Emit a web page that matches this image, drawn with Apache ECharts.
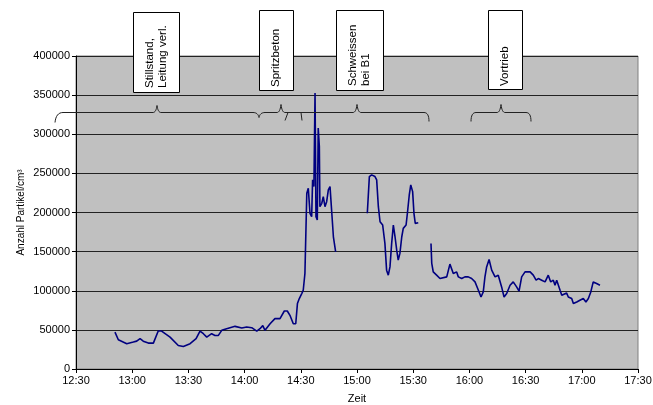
<!DOCTYPE html>
<html>
<head>
<meta charset="utf-8">
<script src="https://cdn.jsdelivr.net/npm/echarts@6/dist/echarts.min.js"></script>
<style>
html,body{margin:0;padding:0;background:#fff;}
#chart{width:653px;height:405px;}
</style>
</head>
<body>
<div id="chart"></div>
<script>
// Time values are minutes since midnight (e.g. 750 = 12:30)
const xTicks = ['12:30','13:00','13:30','14:00','14:30','15:00','15:30','16:00','16:30','17:00','17:30'];
const yTicks = [0,50000,100000,150000,200000,250000,300000,350000,400000];

const seg1Time = [770.8,772.6,777.1,780.6,782.4,784.2,785.9,788.6,791.3,793.9,795.7,800.2,804.6,807.3,810.9,814.1,816.2,818.0,819.8,822.4,824.2,826.0,827.8,830.4,834.9,838.5,841.1,843.8,846.5,848.2,849.7,850.9,853.6,856.2,858.9,861.2,862.8,864.2,866.0,867.3,868.2,869.2,870.5,871.3,872.2,873.2,874.0,874.9,875.8,876.3,877.0,877.6,878.1,878.8,879.3,879.9,880.2,881.2,882.0,882.9,883.8,884.7,885.6,886.5,887.4,888.6];
const seg1Value = [47200,37400,32300,34400,35600,38700,35600,33100,33100,48500,48500,40800,30100,28800,32300,38700,48500,45100,40800,45100,42900,42900,49400,51500,54500,52300,53600,52800,48500,51500,55400,49400,57900,64400,64400,74100,74100,68600,57900,57900,83600,90000,96400,100600,122000,224600,231000,199000,194600,241700,233100,352800,194600,190400,307900,284300,207400,211800,220200,207400,213800,228800,233100,201000,169000,149700];

const seg2Time = [905.5,906.6,907.8,909.6,910.5,911.4,912.3,913.7,914.9,915.8,916.7,917.6,918.5,919.4,920.3,921.2,922.0,922.9,923.9,924.7,926.2,926.9,927.9,928.7,929.7,930.4,931.1,931.9,932.7];
const seg2Value = [199000,245900,248100,245900,241700,207400,188200,184000,160500,126300,119900,130500,160500,184000,169000,151900,139100,147700,169000,179700,184000,199000,222400,235200,226700,199000,186100,184000,186900];

const seg3Time = [939.5,939.9,940.7,941.6,942.5,944.3,945.2,947.9,949.6,950.5,951.4,953.2,954.1,955.9,957.6,959.4,961.2,963.0,964.8,966.2,967.4,968.3,969.2,970.5,971.9,973.7,975.4,977.2,978.5,979.9,981.7,983.4,985.2,986.5,987.9,989.7,992.4,994.1,995.6,996.8,998.6,1000.4,1002.1,1003.4,1004.8,1005.7,1006.6,1008.4,1009.3,1010.1,1011.9,1012.8,1014.6,1015.5,1017.3,1019.0,1020.8,1022.2,1023.5,1024.8,1026.1,1027.9,1029.7];
const seg3Value = [160500,134900,124100,126300,119900,115600,117700,117700,134000,132700,122000,124100,117700,115600,117700,117700,115600,111300,100600,92000,98500,117700,130500,140000,126300,117700,119900,104900,92000,96400,107000,111300,104900,99400,117700,124100,124100,119900,113500,115600,113500,111300,119900,111300,113500,107000,113500,100600,94200,96400,97200,92000,90000,83600,85600,87800,90000,85600,90000,98500,111300,109200,107000];

const annotationTexts = ['Stillstand,\nLeitung verl.', 'Spritzbeton', 'Schweissen\nbei B1', 'Vortrieb'];
const yAxisTitle = 'Anzahl Partikel/cm³';
const xAxisTitle = 'Zeit';

function toMin(s){ const p=s.split(':'); return (+p[0])*60 + (+p[1]); }
function fmt(v){ const h=Math.floor(v/60), m=Math.round(v%60); return h+':'+(m<10?'0':'')+m; }
function zip(t,v){ return t.map((x,i)=>[x,v[i]]); }

const FONT = '"Liberation Sans", Arial, sans-serif';
const lineColor = '#000080';

const chart = echarts.init(document.getElementById('chart'), null, {renderer:'canvas'});

function box(x,y,w,h,text,ax,ay){
  return [
    {type:'rect', shape:{x:x+0.5,y:y+0.5,width:w,height:h}, style:{fill:'#fff',stroke:'#000',lineWidth:1}, z:100},
    {type:'text', x:ax, y:ay, rotation:Math.PI/2, style:{text:text, fill:'#000', font:'11.5px '+FONT, textAlign:'left', textVerticalAlign:'middle', lineHeight:13}, z:101}
  ];
}

// simple path -> polylines (M, L, Q only)
function pathToPolylines(d){
  const tok = d.match(/[MLQ]|-?\d+(\.\d+)?/g);
  const lines = []; let cur = null; let i = 0; let last = null;
  while (i < tok.length){
    const c = tok[i++];
    if (c === 'M'){ const p=[+tok[i++], +tok[i++]]; cur=[p]; lines.push(cur); last=p; }
    else if (c === 'L'){ const p=[+tok[i++], +tok[i++]]; cur.push(p); last=p; }
    else if (c === 'Q'){
      const c1=[+tok[i++], +tok[i++]], p=[+tok[i++], +tok[i++]];
      for (let k=1;k<=8;k++){ const t=k/8, a=(1-t)*(1-t), b=2*(1-t)*t, e=t*t;
        cur.push([a*last[0]+b*c1[0]+e*p[0], a*last[1]+b*c1[1]+e*p[1]]); }
      last=p;
    }
  }
  return lines;
}

const bracePath = 'M55 122 Q56 112 63 112 L153 112 Q156 112 157 105 Q158 112 161 112 L253 112 Q258 112 259 117 Q260 112 265 112 L277 112 Q280 112 281 104 Q282 112 285 112 L353 112 Q356 112 357 104 Q358 112 361 112 L424 112 Q429 112 429 121 M288 112 L285 120 M301 112 L302 120 M471 121 Q471 112 476 112 L497 112 Q500 112 501 104 Q502 112 505 112 L526 112 Q531 112 531 121';

const braceEls = pathToPolylines(bracePath).map(pts => ({
  type:'polyline', shape:{points:pts.map(p=>[p[0], p[1]+0.5])}, style:{fill:null, stroke:'#222', lineWidth:1}, z:99
}));

const graphics = [].concat(
  box(133,12,46,80,annotationTexts[0],156,88),
  box(259,10,34,80,annotationTexts[1],276,87),
  box(336,10,47,80,annotationTexts[2],359.5,86),
  box(488,10,34,79,annotationTexts[3],505,86),
  braceEls
);

const seriesBase = {type:'line', showSymbol:false, symbol:'none', smooth:false, lineStyle:{color:lineColor,width:1.6}, itemStyle:{color:lineColor}, z:5, animation:false};

chart.setOption({
  animation:false,
  backgroundColor:'#ffffff',
  grid:{left:76,right:15,top:56,bottom:36,containLabel:false,outerBoundsMode:'none',show:true,backgroundColor:'#c0c0c0',borderColor:'#808080',borderWidth:1},
  xAxis:{
    type:'value', min:toMin(xTicks[0]), max:toMin(xTicks[xTicks.length-1]), interval:30,
    name:xAxisTitle, nameLocation:'middle', nameGap:24, nameMoveOverlap:false,
    nameTextStyle:{fontFamily:FONT,fontSize:11,color:'#000'},
    axisLine:{show:true,onZero:false,lineStyle:{color:'#000',width:1}},
    axisTick:{show:true,length:4,lineStyle:{color:'#000'}},
    axisLabel:{fontFamily:FONT,fontSize:11,color:'#000',margin:6,formatter:fmt},
    splitLine:{show:false}
  },
  yAxis:{
    type:'value', min:yTicks[0], max:yTicks[yTicks.length-1], interval:50000,
    name:yAxisTitle, nameLocation:'middle', nameGap:50, nameMoveOverlap:false,
    nameTextStyle:{fontFamily:FONT,fontSize:10,color:'#000'},
    axisLine:{show:true,lineStyle:{color:'#000',width:1}},
    axisTick:{show:true,length:4,lineStyle:{color:'#000'}},
    axisLabel:{fontFamily:FONT,fontSize:11,color:'#000',margin:6,formatter:function(v){return String(v);}},
    splitLine:{show:true,lineStyle:{color:'#222',width:1}}
  },
  series:[
    Object.assign({data:zip(seg1Time,seg1Value)}, seriesBase),
    Object.assign({data:zip(seg2Time,seg2Value)}, seriesBase),
    Object.assign({data:zip(seg3Time,seg3Value)}, seriesBase)
  ],
  graphic:graphics
});
</script>
</body>
</html>
